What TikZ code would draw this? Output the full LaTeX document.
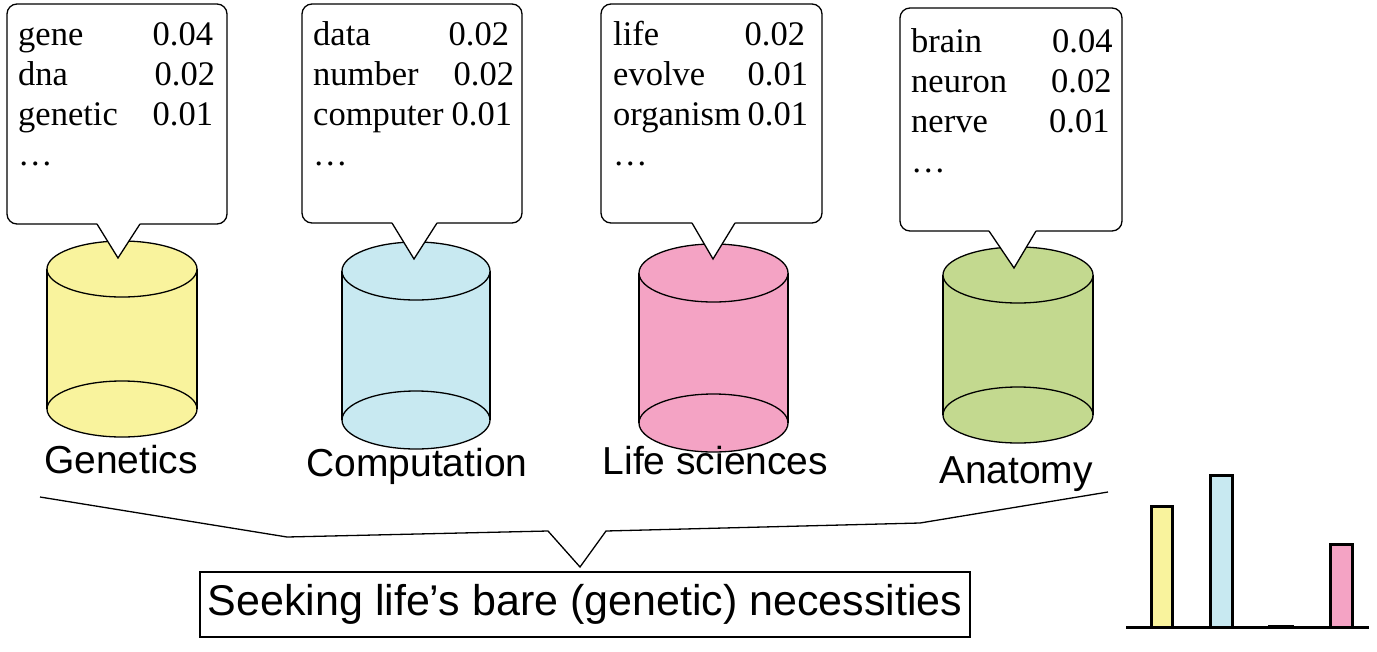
\documentclass[tikz,border=0pt]{standalone}
\usepackage{fontspec}
\setmainfont{Liberation Serif}
\newfontfamily\sansfam{Liberation Sans}
\usetikzlibrary{fit}
\definecolor{yellowF}{RGB}{249,243,157}
\definecolor{blueF}{RGB}{200,233,241}
\definecolor{pinkF}{RGB}{244,163,196}
\definecolor{greenF}{RGB}{195,217,143}
\tikzset{
  callline/.style={line width=1.3pt},
  cylline/.style={line width=1.3pt},
  wordt/.style={font=\fontsize{34.5}{40}\selectfont, inner sep=0pt, anchor=base west},
  labelt/.style={font=\sansfam\fontsize{39}{45}\selectfont, inner sep=0pt, anchor=base},
  barline/.style={line width=3pt},
}
\newcommand\mycyl[7]{% name cx top bot rx ry color
  \fill[#7] ({#2-#5},#3) rectangle ({#2+#5},#4);
  \fill[#7] (#2,#4) ellipse [x radius=#5pt, y radius=#6pt];
  \draw[cylline] (#2,#4) ellipse [x radius=#5pt, y radius=#6pt];
  \draw[cylline] ({#2-#5},#3) -- ({#2-#5},#4) ({#2+#5},#3) -- ({#2+#5},#4);
  \draw[cylline, fill=#7] (#2,#3) ellipse [x radius=#5pt, y radius=#6pt];
  \coordinate (#1) at (#2,#3);
}
\newcommand\mycallout[9]{% name x1 y1 x2 y2 pb1 pb2 tx ty
  \coordinate (#1nw) at (#2,#3);
  \coordinate (#1se) at (#4,#5);
  \node[callline, draw, fill=white, rounded corners=10pt, inner sep=0pt, fit=(#1nw)(#1se)] (#1) {};
  \coordinate (#1tip) at (#8,#9);
  \coordinate (#1pa) at (#6,#5);
  \coordinate (#1pb) at (#7,#5);
  \fill[white] (#6,{#5-3}) -- (#1pa) -- (#1tip) -- (#1pb) -- (#7,{#5-3}) -- cycle;
  \draw[callline, line join=miter] (#1pa) -- (#1tip) -- (#1pb);
}
\begin{document}
\begin{tikzpicture}[x=1pt, y=-1pt]
\useasboundingbox (0,0) rectangle (1377,651);
\fill[white] (0,0) rectangle (1377,651);

% cylinders
\mycyl{cylA}{122}{269}{409}{75}{28}{yellowF}
\mycyl{cylB}{416}{271}{420}{74}{29}{blueF}
\mycyl{cylC}{713.5}{273}{423}{74.5}{29}{pinkF}
\mycyl{cylD}{1018}{275}{415}{75}{28}{greenF}

% callouts
\mycallout{boxA}{7}{4}{227}{224}{97}{140}{118}{258}
\mycallout{boxB}{302}{4}{522}{223}{392}{437}{414}{259}
\mycallout{boxC}{601}{4}{822}{223}{692}{735}{713}{259}
\mycallout{boxD}{900}{8}{1122}{231}{989}{1036}{1014}{268}

% texts in callouts
\node[wordt] (a1) at (18,45) {gene};
\node[wordt] (a1n) at (152.5,45) {0.04};
\node[wordt] (a2) at (18,85) {dna};
\node[wordt] (a2n) at (154.5,85) {0.02};
\node[wordt] (a3) at (18,125) {genetic};
\node[wordt] (a3n) at (152.5,125) {0.01};
\node[wordt] (a4) at (18,165) {…};

\node[wordt] (b1) at (313,45) {data};
\node[wordt] (b1n) at (448.5,45) {0.02};
\node[wordt] (b2) at (313,85) {number};
\node[wordt] (b2n) at (453.5,85) {0.02};
\node[wordt] (b3) at (313,125) {computer};
\node[wordt] (b3n) at (451.5,125) {0.01};
\node[wordt] (b4) at (313,165) {…};

\node[wordt] (c1) at (613,45) {life};
\node[wordt] (c1n) at (744.5,45) {0.02};
\node[wordt] (c2) at (613,85) {evolve};
\node[wordt] (c2n) at (747.5,85) {0.01};
\node[wordt] (c3) at (613,125) {organism};
\node[wordt] (c3n) at (747.5,125) {0.01};
\node[wordt] (c4) at (613,165) {…};

\node[wordt] (d1) at (911,52) {brain};
\node[wordt] (d1n) at (1052,52) {0.04};
\node[wordt] (d2) at (911,92) {neuron};
\node[wordt] (d2n) at (1051,92) {0.02};
\node[wordt] (d3) at (911,132) {nerve};
\node[wordt] (d3n) at (1049,132) {0.01};
\node[wordt] (d4) at (911,172) {…};

% labels
\node[labelt] (lA) at (121,473) {Genetics};
\node[labelt] (lB) at (417,476) {Computation};
\node[labelt] (lC) at (715.5,474) {Life sciences};
\node[labelt] (lD) at (1016,483) {Anatomy};

% bottom box
\node[draw, line width=1.3pt, minimum width=770pt, minimum height=65pt, inner sep=0pt,
      font=\sansfam\fontsize{43}{49}\selectfont] (seek) at (585,604.5) {Seeking life’s bare (genetic) necessities};

% brace
\coordinate (br1) at (40,497);
\coordinate (br2) at (287,537);
\coordinate (br3) at (548,531);
\coordinate (brtip) at (580,567);
\coordinate (br4) at (606,531);
\coordinate (br5) at (920,523);
\coordinate (br6) at (1108,492);
\draw[callline] (br1) -- (br2) -- (br3) -- (brtip) -- (br4) -- (br5) -- (br6);

% bar chart
\draw[barline, fill=yellowF] (1151,627) rectangle (1172.5,506);
\draw[barline, fill=blueF] (1210.5,627) rectangle (1232,475.5);
\draw[barline, fill=black] (1269.5,626.5) rectangle (1292.5,627.5);
\draw[barline, fill=pinkF] (1330.5,627) rectangle (1352,544);
\coordinate (axL) at (1126,627);
\coordinate (axR) at (1369,627);
\draw[barline] (axL) -- (axR);
\end{tikzpicture}
\end{document}
